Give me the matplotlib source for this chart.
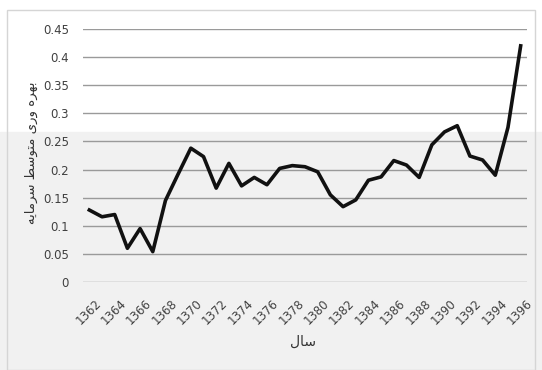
import matplotlib.pyplot as plt
from matplotlib.patches import Rectangle
from matplotlib.transforms import ScaledTranslation

# سال (هجری شمسی) و بهره وری متوسط سرمایه
years = list(range(1362, 1397))
values = [0.128, 0.116, 0.120, 0.060, 0.095, 0.054, 0.145, 0.192, 0.238, 0.223,
          0.167, 0.211, 0.171, 0.186, 0.173, 0.202, 0.207, 0.205, 0.196, 0.155,
          0.134, 0.146, 0.181, 0.187, 0.216, 0.208, 0.186, 0.244, 0.267, 0.278,
          0.224, 0.217, 0.190, 0.275, 0.420]
y_ticks = [0, 0.05, 0.1, 0.15, 0.2, 0.25, 0.3, 0.35, 0.4, 0.45]
y_title = 'بهره وری متوسط سرمایه'
x_title = 'سال'

# matplotlib does not shape Arabic script, so use presentation forms
# (isolated, final, initial, medial); None = letter does not join to the next
FORMS = {
    'ب': ('\uFE8F', '\uFE90', '\uFE91', '\uFE92'),
    'ه': ('\uFEE9', '\uFEEA', '\uFEEB', '\uFEEC'),
    'ر': ('\uFEAD', '\uFEAE', None, None),
    'و': ('\uFEED', '\uFEEE', None, None),
    'ی': ('\uFBFC', '\uFBFD', '\uFBFE', '\uFBFF'),
    'م': ('\uFEE1', '\uFEE2', '\uFEE3', '\uFEE4'),
    'ت': ('\uFE95', '\uFE96', '\uFE97', '\uFE98'),
    'س': ('\uFEB1', '\uFEB2', '\uFEB3', '\uFEB4'),
    'ط': ('\uFEC1', '\uFEC2', '\uFEC3', '\uFEC4'),
    'ا': ('\uFE8D', '\uFE8E', None, None),
    'ل': ('\uFEDD', '\uFEDE', '\uFEDF', '\uFEE0'),
}


def shape(text):
    out = []
    for i, c in enumerate(text):
        if c not in FORMS:
            out.append(c)
            continue
        prev = text[i - 1] if i > 0 else ''
        nxt = text[i + 1] if i + 1 < len(text) else ''
        joins_prev = prev in FORMS and FORMS[prev][2] is not None
        joins_next = nxt in FORMS and FORMS[c][2] is not None
        iso, fin, ini, med = FORMS[c]
        if joins_prev and joins_next:
            out.append(med)
        elif joins_prev:
            out.append(fin)
        elif joins_next:
            out.append(ini)
        else:
            out.append(iso)
    return ''.join(out)[::-1]


fig = plt.figure(figsize=(5.42, 3.70), dpi=100)
fig.patches.append(Rectangle((0, 0), 1, 1 - 132 / 370, transform=fig.transFigure,
                             color='#f1f1f1', zorder=-2))
fig.patches.append(Rectangle((7 / 542, 0), 528 / 542, 1 - 10 / 370, transform=fig.transFigure,
                             fill=False, edgecolor='#d5d5d5', lw=1, zorder=-1))

ax = fig.add_axes([83 / 542, 1 - 282 / 370, 444 / 542, 253 / 370])
ax.set_facecolor('none')

x = list(range(len(years)))
ax.plot(x, values, color='#111111', lw=2.6, solid_joinstyle='round')

ax.set_xlim(-0.5, len(years) - 0.5)
ax.set_ylim(0, 0.45)
ax.set_yticks(y_ticks)
ax.set_yticklabels([f'{v:g}' for v in y_ticks])
ax.yaxis.grid(True, color='#9a9a9a', lw=1)
ax.set_axisbelow(True)
ax.set_xticks(x[::2])
ax.set_xticklabels([str(y) for y in years[::2]], rotation=45, ha='right',
                   rotation_mode='anchor')
ax.tick_params(length=0, labelsize=8.5, colors='#404040')
ax.tick_params(axis='y', pad=10)
ax.tick_params(axis='x', pad=11)
shift = ScaledTranslation(5 / 100, 0, fig.dpi_scale_trans)
for lab in ax.get_xticklabels():
    lab.set_transform(lab.get_transform() + shift)
for s in ax.spines.values():
    s.set_visible(False)

fig.text(31 / 542, 1 - 153 / 370, shape(y_title), rotation=90, ha='center', va='center',
         fontsize=9.5, color='#333333', family='DejaVu Sans')
fig.text(303 / 542, 1 - 342 / 370, shape(x_title), ha='center', va='center',
         fontsize=10, color='#333333', family='DejaVu Sans')

fig.savefig('out.png', dpi=100)
